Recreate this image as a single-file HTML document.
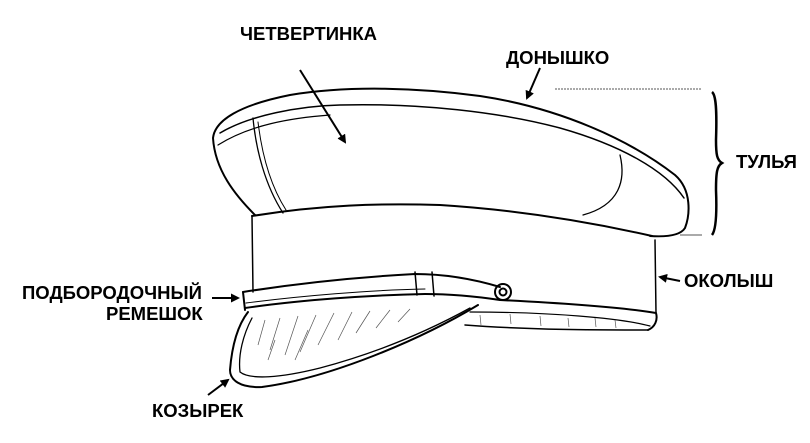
<!DOCTYPE html>
<html><head><meta charset="utf-8"><style>
html,body{margin:0;padding:0;background:#fff;}
svg{display:block}
text{font-family:"Liberation Sans Narrow","Liberation Sans",sans-serif;font-weight:bold;font-size:18.5px;fill:#000}
</style></head><body>
<svg width="810" height="443" viewBox="0 0 810 443" xmlns="http://www.w3.org/2000/svg">
<defs><marker id="ah" markerWidth="9" markerHeight="9" refX="7" refY="4.5" orient="auto" markerUnits="userSpaceOnUse"><path d="M0,0 L9,4.5 L0,9 Z" fill="#000"/></marker></defs>
<g fill="none" stroke="#000" stroke-width="2" stroke-linecap="round" stroke-linejoin="round">
<path d="M255,215 C235,195 215,170 213,138 C215,120 240,105 290,95 C350,85 420,88 480,96 C560,108 630,140 675,175 C692,190 690,215 685,228 C680,236 665,237 650,236"/>
<path d="M220,133 C250,115 300,106 340,105 C420,103 500,112 560,128 C620,145 665,170 684,198" stroke-width="1.5"/>
<path d="M218,145 C250,125 290,118 330,115" stroke-width="1.2"/>
<path d="M253,118 C256,150 265,185 283,213" stroke-width="1.3"/>
<path d="M258,122 C262,155 270,185 286,210" stroke-width="1"/>
<path d="M620,155 C626,180 620,205 583,215" stroke-width="1.3"/>
<path d="M252,216 C320,205 380,203 440,205 C520,210 590,222 652,236"/>
<path d="M252,216 L253,292" stroke-width="1.5"/>
<path d="M655,240 L656,313" stroke-width="1.5"/>
<path d="M243,292 C300,283 360,277 415,274 C450,274 480,281 500,287"/>
<path d="M245,308 C300,300 370,295 425,294 C455,294 480,297 500,300"/>
<path d="M246,303 C300,296 370,290 425,289" stroke-width="1"/>
<path d="M243,292 L245,310"/>
<path d="M415,272 L417,295 M432,272 L434,296" stroke-width="1.5"/>
<circle cx="503" cy="292" r="8"/><circle cx="503" cy="292" r="3.5"/>
<path d="M500,300 C560,303 620,307 656,313 C658,320 655,327 648,330"/>
<path d="M465,325 C530,330 600,330 648,330" stroke-width="1.5"/>
<path d="M470,312 C550,312 620,318 650,326" stroke-width="1.2"/>
<path d="M248,312 C238,325 232,345 230,370 C230,380 240,388 262,387 C330,378 420,340 478,305"/>
<path d="M252,318 C243,335 238,355 240,372 C250,380 280,378 320,368 C380,352 430,330 470,308" stroke-width="1.3"/>
</g>
<g stroke="#555" stroke-width="0.7">
<path d="M265,320 L258,345 M280,318 L270,350 M298,316 L285,355 M316,315 L300,352 M334,313 L318,345 M352,312 L338,340 M370,311 L356,333 M390,310 L376,328 M410,309 L398,322 M275,340 L268,360 M308,330 L295,360"/>
<path d="M480,315 L481,325 M510,314 L511,324 M540,316 L541,326 M568,318 L569,327 M595,318 L596,327 M615,320 L616,328"/>
</g>
<g stroke="#000" stroke-width="2" fill="none">
<path d="M300,70 L345,142" marker-end="url(#ah)"/>
<path d="M540,68 L527,98" marker-end="url(#ah)"/>
<path d="M680,281 L660,277" marker-end="url(#ah)"/>
<path d="M212,298 L238,298" marker-end="url(#ah)"/>
<path d="M208,395 L228,380" marker-end="url(#ah)"/>
</g>
<path d="M555,89 L702,89" stroke="#555" stroke-width="1" stroke-dasharray="2,1"/>
<path d="M680,235 L702,235" stroke="#555" stroke-width="1"/>
<path d="M712,92 C716,95 717,110 716,140 C716,155 717,160 722,163 C717,166 716,172 716,190 C717,215 716,230 712,235" fill="none" stroke="#000" stroke-width="2.5"/>
<text x="240" y="40">ЧЕТВЕРТИНКА</text>
<text x="506" y="64">ДОНЫШКО</text>
<text x="736" y="168">ТУЛЬЯ</text>
<text x="684" y="287">ОКОЛЫШ</text>
<text x="22" y="299">ПОДБОРОДОЧНЫЙ</text>
<text x="106" y="320">РЕМЕШОК</text>
<text x="152" y="417">КОЗЫРЕК</text>
</svg>
</body></html>
